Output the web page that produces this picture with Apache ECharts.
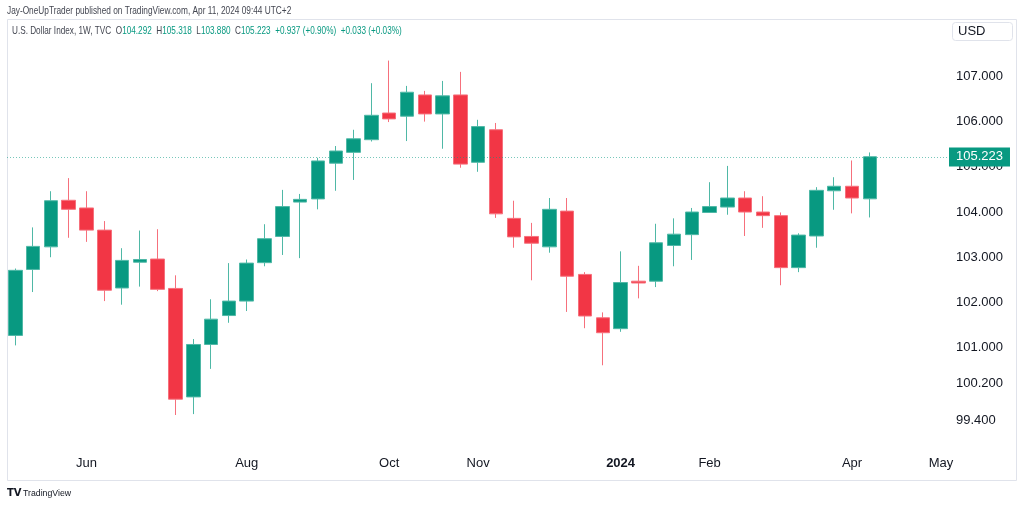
<!DOCTYPE html>
<html>
<head>
<meta charset="utf-8">
<script src="https://cdn.jsdelivr.net/npm/echarts@6/dist/echarts.min.js"></script>
<style>
html,body{margin:0;padding:0;background:#fff;}
#chart{width:1024px;height:506px;}
</style>
</head>
<body>
<div id="chart"></div>
<script>
// Weekly candles, week of 2023-05-08 through week of 2024-04-08 (index = week number)
const openP  = [101.27,102.73,103.23,104.26,104.09,103.60,102.32,102.89,102.96,102.31,99.91,101.07,101.71,102.03,102.88,103.46,104.22,104.29,105.08,105.32,105.60,106.19,106.12,106.59,106.17,106.59,105.10,105.82,103.86,103.46,103.23,104.02,102.62,101.66,101.42,102.47,102.47,103.26,103.50,103.99,104.11,104.31,104.00,103.92,102.77,103.47,104.47,104.57,104.292];
const closeP = [102.71,103.24,104.25,104.06,103.60,102.27,102.93,102.95,102.29,99.86,101.07,101.63,102.03,102.87,103.41,104.12,104.28,105.13,105.35,105.62,106.14,106.06,106.65,106.17,106.57,105.06,105.89,103.96,103.45,103.31,104.06,102.58,101.70,101.33,102.44,102.43,103.32,103.51,104.00,104.12,104.31,104.00,103.92,102.77,103.49,104.48,104.57,104.31,105.223];
const lowP   = [101.05,102.23,103.00,103.43,103.34,102.03,101.95,102.35,102.25,99.51,99.53,100.53,101.55,101.81,102.80,103.05,102.98,104.06,104.47,104.71,105.56,105.99,105.57,106.00,105.40,104.98,104.89,103.87,103.21,102.49,103.10,101.79,101.43,100.61,101.35,102.09,102.34,102.80,102.94,103.99,103.94,103.47,103.65,102.38,102.67,103.21,104.05,103.97,103.880];
const highP  = [102.75,103.66,104.46,104.75,104.46,103.80,103.20,103.59,103.62,102.60,101.19,102.07,102.87,102.95,103.73,104.49,104.40,105.20,105.46,105.82,106.85,107.35,106.79,106.68,106.90,107.10,106.04,105.97,104.25,103.76,104.31,104.31,102.67,101.78,103.13,102.81,103.74,103.86,104.09,104.66,105.02,104.46,104.35,103.99,103.53,104.55,104.77,105.14,105.318];

// Time-axis tick labels (week index -> label)
const timeTickIndex  = [4, 13, 21, 26, 34, 39, 47, 52];
const timeTickLabels = ['Jun', 'Aug', 'Oct', 'Nov', '2024', 'Feb', 'Apr', 'May'];
// Price-axis tick labels
const priceTicks = [107, 106, 105, 104, 103, 102, 101, 100.2, 99.4];
// Last price and change texts
const lastPrice = 105.223;
const changeTexts = ['+0.937 (+0.90%)', '+0.033 (+0.03%)'];

const GREEN = '#089981', RED = '#F23645';
const candleData = openP.map((o, i) => [i, o, closeP[i], lowP[i], highP[i]]);
const last = openP.length - 1;

const chart = echarts.init(document.getElementById('chart'), null, {renderer: 'canvas'});
const SANS = '"Liberation Sans", Arial, sans-serif';

chart.setOption({
  animation: false,
  backgroundColor: '#ffffff',
  grid: {left: 7, right: 76, top: 19, bottom: 58, containLabel: false},
  xAxis: {
    type: 'value',
    min: -0.466,
    max: 52.39,
    axisLine: {show: false},
    axisTick: {show: false},
    splitLine: {show: false},
    axisLabel: {
      customValues: timeTickIndex,
      margin: 9,
      color: '#131722',
      fontFamily: SANS,
      fontSize: 13,
      formatter: function (v) {
        const k = timeTickIndex.indexOf(Math.round(v));
        const t = k >= 0 ? timeTickLabels[k] : '';
        return t === '2024' ? '{b|' + t + '}' : t;
      },
      rich: {b: {fontWeight: 'bold', fontSize: 13, color: '#131722', fontFamily: SANS}}
    }
  },
  yAxis: {
    type: 'value',
    position: 'right',
    min: 98.78,
    max: 108.27,
    scale: true,
    axisLine: {show: false},
    axisTick: {show: false},
    splitLine: {show: false},
    axisLabel: {
      customValues: priceTicks,
      margin: 8,
      color: '#131722',
      fontFamily: SANS,
      fontSize: 13,
      formatter: function (v) { return Number(v).toFixed(3); }
    }
  },
  series: [{
    type: 'candlestick',
    data: candleData,
    barWidth: 14,
    itemStyle: {
      color: GREEN,
      color0: RED,
      borderColor: '#4fb8a6',
      borderColor0: '#f6707c',
      borderWidth: 1
    },
    markLine: {
      silent: true,
      symbol: ['none', 'none'],
      lineStyle: {type: [1, 2], color: 'rgba(8,153,129,0.55)', width: 1},
      label: {
        position: 'end',
        distance: 1,
        formatter: function () { return lastPrice.toFixed(3); },
        color: '#ffffff',
        backgroundColor: GREEN,
        fontFamily: SANS,
        fontSize: 13,
        padding: [3, 7, 3, 7],
        borderRadius: 0
      },
      data: [{yAxis: lastPrice}]
    }
  }],
  graphic: [
    {type: 'rect', silent: true, z: -1,
     shape: {x: 7.5, y: 19.5, width: 1009, height: 461},
     style: {fill: 'none', stroke: '#e0e3eb', lineWidth: 1}},
    {type: 'text', x: 7, y: 11, scaleX: 0.79,
     style: {text: 'Jay-OneUpTrader published on TradingView.com, Apr 11, 2024 09:44 UTC+2',
             font: '10.5px ' + SANS, fill: '#434651', verticalAlign: 'middle'}},
    {type: 'text', x: 12, y: 31, scaleX: 0.78,
     style: {
       text: '{n|U.S. Dollar Index, 1W, TVC}  {k|O}{v|' + openP[last].toFixed(3) + '}  {k|H}{v|' + highP[last].toFixed(3) +
             '}  {k|L}{v|' + lowP[last].toFixed(3) + '}  {k|C}{v|' + closeP[last].toFixed(3) + '}  {v|' + changeTexts[0] +
             '}  {v|' + changeTexts[1] + '}',
       font: '10.5px ' + SANS,
       verticalAlign: 'middle',
       rich: {
         n: {fill: '#434651', font: '10.5px ' + SANS},
         k: {fill: '#434651', font: '10.5px ' + SANS},
         v: {fill: GREEN, font: '10.5px ' + SANS}
       }
     }},
    {type: 'rect', silent: true,
     shape: {x: 952.5, y: 22.5, width: 60, height: 18, r: 3},
     style: {fill: '#ffffff', stroke: '#e0e3eb', lineWidth: 1}},
    {type: 'text', x: 958, y: 31.5,
     style: {text: 'USD', font: '13px ' + SANS, fill: '#131722', verticalAlign: 'middle'}},
    {type: 'text', x: 7, y: 493,
     style: {text: 'TV', font: '900 10px "DejaVu Sans", sans-serif', fill: '#131722', verticalAlign: 'middle'}},
    {type: 'text', x: 23, y: 493.5, scaleX: 0.92,
     style: {text: 'TradingView', font: '9.5px ' + SANS, fill: '#131722', verticalAlign: 'middle'}}
  ]
});
</script>
</body>
</html>
